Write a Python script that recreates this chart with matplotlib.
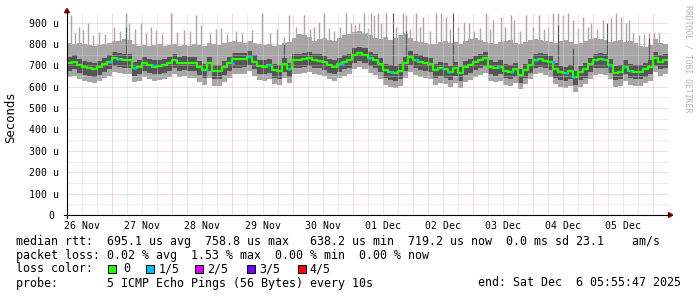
import numpy as np
import matplotlib
matplotlib.use('Agg')
import matplotlib.pyplot as plt
import matplotlib.dates as mdates
from matplotlib.patches import Polygon, Rectangle
from matplotlib.lines import Line2D
from datetime import datetime, timedelta

plt.rcParams['lines.scale_dashes'] = False

W, H = 697, 297
MONO = 'DejaVu Sans Mono'

# ---------------------------------------------------------------------------
# data, values in microseconds
start = datetime(2025, 11, 26, 5, 55, 47)
end = datetime(2025, 12, 6, 5, 55, 47)
step_hours = 2

# median rtt, one value per 2 hours
median_us = [
    710, 717, 702, 691, 686, 681, 691, 706, 717, 733, 728, 725, 725, 686, 694, 710, 702, 694, 697, 702, 710, 725, 710, 713, 710,
    710, 694, 678, 710, 675, 675, 691, 710, 728, 728, 730, 738, 717, 697, 694, 702, 678, 673, 705, 681, 725, 725, 728, 733,
    725, 722, 714, 702, 694, 705, 717, 725, 749, 756, 749, 733, 725, 705, 678, 670, 666, 675, 710, 738, 725, 717, 710, 705,
    678, 686, 681, 670, 686, 666, 691, 702, 717, 725, 733, 694, 686, 694, 675, 670, 681, 655, 678, 702, 725, 728, 722, 717,
    681, 670, 666, 675, 647, 670, 681, 705, 725, 728, 725, 702, 666, 670, 694, 675, 670, 670, 681, 694, 733, 717, 725,
]
# upper edge of the smoke (slowest ping), per 2 hours
max_us = [
    805, 800, 805, 800, 795, 790, 795, 800, 805, 815, 815, 825, 820, 800, 790, 795, 790, 795, 800, 790, 795, 800, 790, 795, 790,
    800, 795, 790, 805, 800, 795, 805, 810, 815, 810, 805, 815, 805, 800, 795, 800, 790, 795, 805, 810, 830, 845, 840, 835,
    815, 825, 830, 820, 815, 830, 840, 845, 855, 860, 850, 840, 830, 825, 835, 820, 830, 840, 850, 830, 815, 810, 805, 800,
    800, 810, 815, 805, 810, 800, 815, 825, 830, 820, 810, 805, 800, 810, 815, 820, 805, 800, 810, 820, 825, 820, 815, 810,
    805, 815, 820, 810, 800, 805, 815, 825, 830, 825, 820, 810, 815, 820, 810, 815, 805, 790, 785, 795, 825, 805, 800,
]
# smoke band widths below / above the median, one per day
light_lo_off = [65, 65, 70, 65, 65, 70, 70, 65, 70, 65]
dark_lo_off = [36, 36, 38, 36, 36, 38, 38, 36, 38, 36]
dark_hi_off = [30, 30, 28, 30, 30, 30, 28, 30, 28, 30]

# single slow pings (hours after start, value)
spike_hours = [1.6, 3.0, 4.8, 6.5, 8.4, 10.5, 12.8, 15.0, 18.8, 21.0, 23.6, 24.8, 27.0, 29.5,
               31.5, 33.5, 35.5, 38.0, 41.5, 44.0, 46.7, 49.0,
               51.5, 53.5, 57.0, 59.5, 61.5, 64.0, 67.5, 70.0, 74.0, 77.9, 81.0, 84.0,
               86.6, 88.6, 91.4, 94.6, 97.0, 98.8,
               100.6, 102.6, 104.5, 106.5, 109.0, 111.4, 113.4, 115.0, 116.6, 118.6, 120.0,
               121.4, 122.6, 124.2, 125.4, 127.4, 131.5,
               134.2, 135.4, 137.0, 139.4, 141.0, 142.2, 145.0,
               147.3, 149.3, 151.3, 153.0, 156.0, 158.5, 160.5, 162.5, 165.0, 167.3, 169.0, 170.1,
               173.3, 175.0, 177.3, 178.5, 181.0, 183.3, 186.1, 188.5, 190.5, 192.0,
               194.1, 196.1, 198.1, 200.1, 202.0, 204.0, 206.0, 208.0, 209.2, 211.5, 214.0,
               217.2, 219.2, 221.2, 223.2, 224.4, 226.0, 228.5, 230.5, 232.4, 234.5, 236.5]
spike_us = [936, 850, 881, 865, 897, 840, 855, 845, 881, 860, 944, 897, 870, 897,
            850, 880, 866, 845, 944, 855, 866, 860,
            936, 889, 850, 870, 873, 845, 860, 850, 865, 944, 850, 870,
            834, 936, 881, 936, 870, 880,
            904, 944, 875, 860, 880, 944, 897, 890, 897, 944, 875,
            944, 936, 944, 897, 944, 880,
            944, 936, 870, 944, 880, 928, 860,
            944, 944, 928, 870, 880, 904, 897, 860, 875, 944, 870, 912,
            928, 880, 936, 912, 860, 936, 881, 936, 870, 880,
            944, 944, 936, 944, 912, 875, 928, 880, 897, 870, 912,
            920, 944, 928, 897, 912, 850, 840, 845, 850, 850, 855]
dark_spike_hours = [23.6, 86.6, 130.2, 135.4, 154.1, 196.1, 202.0, 215.6, 232.4]
dark_spike_us = [880, 800, 944, 860, 944, 890, 780, 900, 830]

# times where 1 of 5 pings was lost
loss_hours = [16.8, 20.0, 26.4, 33.9, 55.5, 65.5, 72.3, 80.3, 88.2, 108.6, 109.8, 120.2,
              129.0, 139.0, 149.3, 152.1, 172.1, 177.3, 186.9, 193.7, 198.9, 202.0,
              213.6, 216.4, 222.0, 224.4]

day_labels = ['26 Nov', '27 Nov', '28 Nov', '29 Nov', '30 Nov',
              '01 Dec', '02 Dec', '03 Dec', '04 Dec', '05 Dec']
y_ticks = [0, 100, 200, 300, 400, 500, 600, 700, 800, 900]

loss_names = ['0', '1/5', '2/5', '3/5', '4/5']
loss_colors = ['#26ff00', '#00b8ff', '#d300ff', '#6f00ff', '#ff0000']

line1 = 'median rtt:  695.1 us avg  758.8 us max   638.2 us min  719.2 us now  0.0 ms sd 23.1    am/s'
line2 = 'packet loss: 0.02 % avg  1.53 % max  0.00 % min  0.00 % now'
line4 = 'probe:       5 ICMP Echo Pings (56 Bytes) every 10s'
end_text = 'end: Sat Dec  6 05:55:47 2025'

LIGHT = '#a6a6a6'
DARK = '#555555'

# ---------------------------------------------------------------------------
def px(x, y):
    return x / W, 1 - y / H


fig = plt.figure(figsize=(W / 100, H / 100), dpi=100)
fig.patch.set_facecolor('white')
ax = fig.add_axes([67 / W, 1 - 215 / H, 601 / W, 202 / H])
ax.set_facecolor('white')
for s in ax.spines.values():
    s.set_visible(False)

t0 = mdates.date2num(start)
t1 = mdates.date2num(end)
n = len(median_us)
edges = t0 + np.arange(n + 1) * step_hours / 24.0
med = np.array(median_us, float)
per_day = 24 // step_hours
day_idx = np.arange(n) // per_day
p1 = med - np.array(light_lo_off)[day_idx]
p2 = med - np.array(dark_lo_off)[day_idx]
p4 = med + np.array(dark_hi_off)[day_idx]
p5 = np.array(max_us, float)


def ext(a):
    return np.append(a, a[-1])


ax.fill_between(edges, ext(p1), ext(p5), step='post', color=LIGHT, lw=0, zorder=1)
sh = np.array(spike_hours)
ax.vlines(t0 + sh / 24.0, med[(sh // step_hours).astype(int)], spike_us,
          color=LIGHT, lw=1.0, zorder=1)
ax.fill_between(edges, ext(p2), ext(p4), step='post', color=DARK, lw=0, zorder=2)
dh = np.array(dark_spike_hours)
ax.vlines(t0 + dh / 24.0, med[(dh // step_hours).astype(int)], dark_spike_us,
          color=DARK, lw=0.8, zorder=2)

# grid (dotted, minor grey / major red)
MAJ = dict(color='#e8a8a8', lw=0.6, dashes=(0.72, 0.72), zorder=3)
MIN = dict(color='#d6d6d6', lw=0.6, dashes=(0.72, 0.72), zorder=3)
day0 = datetime(2025, 11, 26)
for k in range(0, 11 * 4):
    t = day0 + timedelta(hours=6 * k)
    if t <= start or t >= end:
        continue
    ax.axvline(mdates.date2num(t), **(MAJ if t.hour == 0 else MIN))
for v in range(50, 950, 50):
    ax.axhline(v, **(MAJ if v % 100 == 0 else MIN))

# median line coloured by loss
ax.step(edges, ext(med), where='post', color=loss_colors[0], lw=1.6, zorder=4)
lh = np.array(loss_hours)
ax.hlines(med[(lh // step_hours).astype(int)], t0 + lh / 24.0, t0 + (lh + 1.0) / 24.0,
          color=loss_colors[1], lw=1.8, zorder=5)

ax.set_xlim(t0, t1)
ax.set_ylim(0, 945)

# x labels at noon
noons = [mdates.date2num(day0 + timedelta(days=k, hours=12)) for k in range(len(day_labels))]
ax.set_xticks(noons)
ax.set_xticklabels(day_labels, family=MONO, fontsize=7.1)
ax.tick_params(axis='x', length=0, pad=4)
ax.set_yticks([])

for v in y_ticks:
    lab = '0' if v == 0 else '%d u' % v
    off = -12.5 if v == 0 else -8.0
    ax.annotate(lab, xy=(0, v), xycoords=('axes fraction', 'data'),
                xytext=(off * 0.72, 0), textcoords='offset points',
                ha='right', va='center_baseline', family=MONO, fontsize=7.1)

# axes with arrows
fig.add_artist(Line2D([64 / W, 669 / W], [1 - 215 / H, 1 - 215 / H], color='black', lw=0.8))
fig.add_artist(Line2D([67 / W, 67 / W], [1 - 218 / H, 1 - 12 / H], color='black', lw=0.8))
fig.add_artist(Polygon([px(64.5, 12.7), px(69.5, 12.7), px(67, 8.5)], closed=True,
                       transform=fig.transFigure, color='#7f0000'))
fig.add_artist(Polygon([px(668.5, 212.5), px(668.5, 217.5), px(672.7, 215)], closed=True,
                       transform=fig.transFigure, color='#7f0000'))

# labels
fig.text(*px(11, 117), 'Seconds', rotation=90, ha='center', va='center',
         family=MONO, fontsize=8.8)
fig.text(*px(688, 5), 'RRDTOOL / TOBI OETIKER', rotation=270, ha='center', va='top',
         family=MONO, fontsize=5.9, color='#b4b4b4')

# legend
fs = 8.4
fig.text(*px(16, 244.5), line1, family=MONO, fontsize=fs, va='baseline')
fig.text(*px(16, 258.5), line2, family=MONO, fontsize=fs, va='baseline')
fig.text(*px(16, 272.5), 'loss color:', family=MONO, fontsize=fs, va='baseline')
box_x = [108, 146, 195, 247, 298]
txt_x = [123.5, 158.5, 207.5, 259.5, 309.5]
for bx, tx, name, col in zip(box_x, txt_x, loss_names, loss_colors):
    fig.add_artist(Rectangle(px(bx, 272.5), 7.5 / W, 8 / H, transform=fig.transFigure,
                             facecolor=col, edgecolor='black', lw=0.7))
    fig.text(*px(tx, 272.5), name, family=MONO, fontsize=fs, va='baseline')
fig.text(*px(16, 286.5), line4, family=MONO, fontsize=fs, va='baseline')
fig.text(*px(478, 286.5), end_text, family=MONO, fontsize=fs, va='baseline')

fig.savefig('out.png', dpi=100, facecolor='white')
